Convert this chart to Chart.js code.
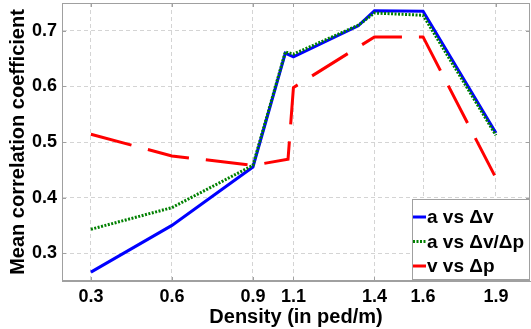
<!DOCTYPE html>
<html>
<head>
<meta charset="utf-8">
<script src="https://cdn.jsdelivr.net/npm/chart.js@4"></script>
<style>
  html, body { margin: 0; padding: 0; background: #fff; }
  #wrap { width: 531px; height: 329px; }
</style>
</head>
<body>
<div id="wrap"><canvas id="chart" width="531" height="329"></canvas></div>
<script>
// x tick positions (measured density) and the labels printed under them
const tickPositions = [0.3, 0.6, 0.9, 1.05, 1.35, 1.53, 1.8];
const tickLabels = ['0.3', '0.6', '0.9', '1.1', '1.4', '1.6', '1.9'];
const yTicks = [0.3, 0.4, 0.5, 0.6, 0.7];

// series
const aDvX = [0.3, 0.6, 0.9, 1.02, 1.05, 1.29, 1.35, 1.53, 1.8];
const aDvY = [0.266, 0.35, 0.455, 0.66, 0.653, 0.709, 0.736, 0.735, 0.516];
const aDvDpY = [0.343, 0.382, 0.458, 0.662, 0.658, 0.71, 0.732, 0.728, 0.512];
const vDpX = [0.3, 0.6, 0.9, 1.03, 1.05, 1.35, 1.53, 1.8];
const vDpY = [0.514, 0.475, 0.458, 0.469, 0.598, 0.689, 0.689, 0.435];

const seriesNames = ['a vs \u0394v', 'a vs \u0394v/\u0394p', 'v vs \u0394p'];
const seriesColors = ['#0000ff', '#008000', '#ff0000'];

const FONT = '"Liberation Sans", Arial, sans-serif';

function toPoints(xs, ys) {
    return xs.map((x, i) => ({ x: x, y: ys[i] }));
}

// box around the plot area, small inner tick marks, legend in the lower right corner
const framePlugin = {
    id: 'frame',
    afterDraw(chart) {
        const ctx = chart.ctx;
        const a = chart.chartArea;
        ctx.save();
        ctx.strokeStyle = '#a0a0a0';
        ctx.lineWidth = 1;
        ctx.strokeRect(a.left + 0.5, a.top + 0.5, a.right - a.left - 1, a.bottom - a.top - 1);

        // inner tick marks
        ctx.beginPath();
        chart.scales.x.ticks.forEach(t => {
            const px = Math.round(chart.scales.x.getPixelForValue(t.value)) + 0.5;
            ctx.moveTo(px, a.bottom); ctx.lineTo(px, a.bottom - 4);
            ctx.moveTo(px, a.top); ctx.lineTo(px, a.top + 4);
        });
        chart.scales.y.ticks.forEach(t => {
            const py = Math.round(chart.scales.y.getPixelForValue(t.value)) + 0.5;
            ctx.moveTo(a.left, py); ctx.lineTo(a.left + 4, py);
            ctx.moveTo(a.right, py); ctx.lineTo(a.right - 4, py);
        });
        ctx.stroke();

        // legend
        const bx = 412, by = 199, bw = a.right - 412 - 1, bh = 80;
        ctx.fillStyle = '#fff';
        ctx.fillRect(bx, by, bw, bh);
        ctx.strokeStyle = '#a0a0a0';
        ctx.strokeRect(bx + 0.5, by + 0.5, bw, bh);
        ctx.font = 'bold 19px ' + FONT;
        ctx.textBaseline = 'middle';
        const dashes = [[], [2, 1.5], []];
        seriesNames.forEach((name, i) => {
            const yy = 217 + i * 24.5;
            ctx.strokeStyle = seriesColors[i];
            ctx.lineWidth = 3;
            ctx.setLineDash(dashes[i]);
            ctx.beginPath();
            ctx.moveTo(413, yy);
            ctx.lineTo(426, yy);
            ctx.stroke();
            ctx.setLineDash([]);
            ctx.fillStyle = '#000';
            ctx.fillText(name, 427, yy + 1);
        });
        ctx.restore();
    }
};

new Chart(document.getElementById('chart'), {
    type: 'line',
    data: {
        datasets: [
            {
                label: seriesNames[0],
                data: toPoints(aDvX, aDvY),
                borderColor: seriesColors[0],
                borderWidth: 3,
                pointRadius: 0,
                order: 3
            },
            {
                label: seriesNames[1],
                data: toPoints(aDvX, aDvDpY),
                borderColor: seriesColors[1],
                borderWidth: 3,
                borderDash: [2, 1.5],
                pointRadius: 0,
                order: 2
            },
            {
                label: seriesNames[2],
                data: toPoints(vDpX, vDpY),
                borderColor: seriesColors[2],
                borderWidth: 3,
                borderDash: [42, 17],
                pointRadius: 0,
                order: 1
            }
        ]
    },
    options: {
        responsive: false,
        animation: false,
        layout: { padding: { top: 3, right: 1, left: 0, bottom: 0 } },
        plugins: {
            legend: { display: false },
            tooltip: { enabled: false }
        },
        scales: {
            x: {
                type: 'linear',
                min: 0.193,
                max: 1.926,
                afterBuildTicks: (s) => { s.ticks = tickPositions.map(v => ({ value: v })); },
                afterFit: (s) => {
                    s.height = 48;
                    s.paddingLeft = 0;
                    s.paddingRight = 0;
                },
                ticks: {
                    callback: (v, i) => tickLabels[i],
                    font: { family: FONT, size: 18, weight: 'bold' },
                    color: '#000',
                    padding: 5,
                    maxRotation: 0,
                    autoSkip: false
                },
                grid: {
                    color: '#d4d4d4',
                    drawTicks: false
                },
                border: { color: '#a0a0a0', dash: [4, 3] },
                title: {
                    display: true,
                    text: 'Density (in ped/m)',
                    font: { family: FONT, size: 20, weight: 'bold' },
                    color: '#000',
                    padding: { top: 6, bottom: 0 }
                }
            },
            y: {
                min: 0.25,
                max: 0.75,
                afterBuildTicks: (s) => { s.ticks = yTicks.map(v => ({ value: v })); },
                afterFit: (s) => {
                    s.width = 62;
                    s.paddingTop = 0;
                    s.paddingBottom = 0;
                },
                ticks: {
                    callback: (v) => v.toFixed(1),
                    font: { family: FONT, size: 18, weight: 'bold' },
                    color: '#000',
                    padding: 5
                },
                grid: {
                    color: '#d4d4d4',
                    drawTicks: false
                },
                border: { color: '#a0a0a0', dash: [4, 3] },
                title: {
                    display: true,
                    text: 'Mean correlation coefficient',
                    font: { family: FONT, size: 20, weight: 'bold' },
                    color: '#000',
                    padding: { top: 6, bottom: 0 }
                }
            }
        }
    },
    plugins: [framePlugin]
});
</script>
</body>
</html>
